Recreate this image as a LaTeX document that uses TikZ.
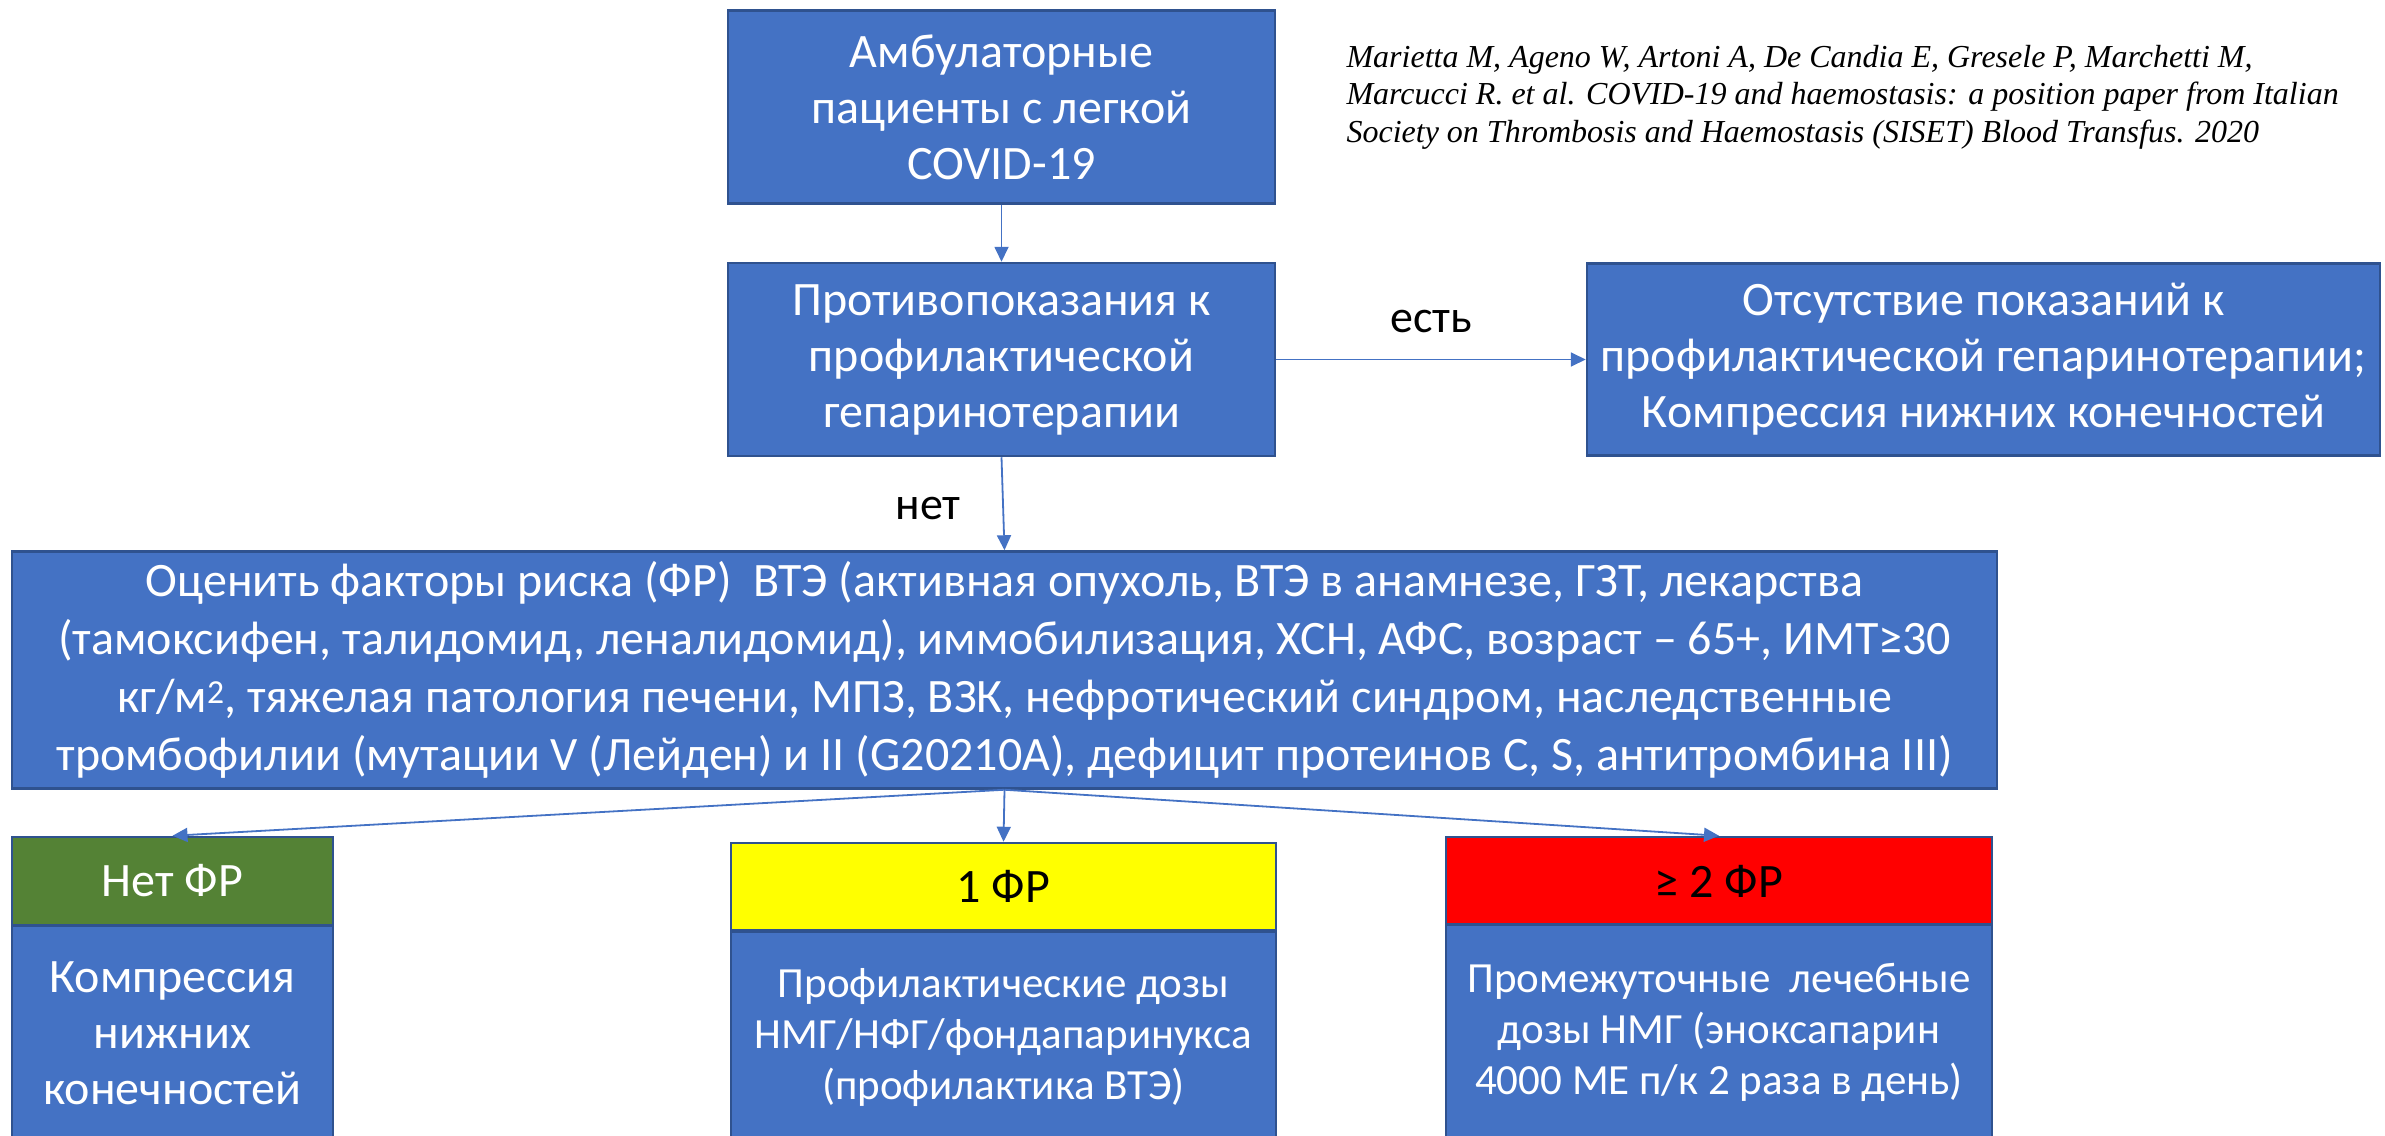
\documentclass[tikz,border=0pt]{standalone}
\usepackage{fontspec}
\setmainfont{Carlito}
\newfontfamily\reffont{Liberation Serif}
\usetikzlibrary{arrows.meta}
\definecolor{boxblue}{HTML}{4472C4}
\definecolor{edgeblue}{HTML}{2F528F}
\definecolor{riskgreen}{HTML}{548235}
\definecolor{riskyellow}{HTML}{FFFF00}
\definecolor{riskred}{HTML}{FF0000}
\begin{document}
\begin{tikzpicture}[x=1pt,y=-1pt,
  box/.style={rectangle, fill=boxblue, draw=edgeblue, line width=2.5pt,
    inner sep=0pt, align=center, text=white,
    font=\fontsize{48}{56}\selectfont},
  header/.style={box, font=\fontsize{48}{56}\selectfont},
  dosebox/.style={box, font=\fontsize{43}{51}\selectfont},
  link/.style={draw=boxblue, line width=1.8pt,
    -{Triangle[length=15pt,width=14pt]}},
  edgelabel/.style={text=black, font=\fontsize{46}{56}\selectfont}]
\useasboundingbox (0,0) rectangle (2385,1135);

% top of the flow
\node[box, minimum width=547pt, minimum height=193pt] (start) at (1001.5,107)
  {Амбулаторные\\ пациенты с легкой\\ COVID-19};
\node[box, minimum width=547pt, minimum height=193pt] (contra) at (1001.5,359.5)
  {Противопоказания к\\ профилактической\\ гепаринотерапии};
\node[box, minimum width=793pt, minimum height=192pt] (nohep) at (1983.5,359.5)
  {Отсутствие показаний к\\ профилактической гепаринотерапии;\\ Компрессия нижних конечностей};

% source
\node[anchor=west, align=left, text=black,
  font=\reffont\itshape\fontsize{32}{37.5}\selectfont] (source) at (1343,97)
  {Marietta M, Ageno W, Artoni A, De Candia E, Gresele P, Marchetti M,\\
   Marcucci R. et al. COVID-19 and haemostasis: a position paper from Italian\\
   Society on Thrombosis and Haemostasis (SISET) Blood Transfus. 2020};

% risk assessment
\node[box, minimum width=1985pt, minimum height=237pt,
  font=\fontsize{48}{58}\selectfont] (risk) at (1004.5,670)
  {Оценить факторы риска (ФР)\ \ ВТЭ (активная опухоль, ВТЭ в анамнезе, ГЗТ, лекарства\\
   (тамоксифен, талидомид, леналидомид), иммобилизация, ХСН, АФС, возраст – 65+, ИМТ≥30\\
   кг/м\textsuperscript{2}, тяжелая патология печени, МПЗ, ВЗК, нефротический синдром, наследственные\\
   тромбофилии (мутации V (Лейден) и II (G20210A), дефицит протеинов C, S, антитромбина III)};

% outcome columns
\node[header, fill=riskgreen, minimum width=321pt, minimum height=88pt] (none) at (172.5,881) {Нет ФР};
\node[box, minimum width=321pt, minimum height=215pt] (noneact) at (172.5,1033)
  {Компрессия\\ нижних\\ конечностей};

\node[header, fill=riskyellow, text=black, minimum width=545pt, minimum height=87pt] (one) at (1003.5,886.5) {1 ФР};
\node[dosebox, minimum width=545pt, minimum height=210pt] (oneact) at (1003.5,1037)
  {Профилактические дозы\\ НМГ/НФГ/фондапаринукса\\ (профилактика ВТЭ)};

\node[header, fill=riskred, text=black, minimum width=546pt, minimum height=88pt] (two) at (1719,881) {≥ 2 ФР};
\node[dosebox, minimum width=546pt, minimum height=215pt] (twoact) at (1719,1032)
  {Промежуточные\ \ лечебные\\ дозы НМГ (эноксапарин\\ 4000 МЕ п/к 2 раза в день)};

% connectors
\draw[link] (start.south) -- (contra.north);
\draw[link] (contra.east) -- (nohep.west);
\draw[link] (contra.south) -- (risk.north);
\draw[link] (risk.south) -- (none.north);
\draw[link] (risk.south) -- (one.north);
\draw[link] (risk.south) -- (two.north);

% branch labels
\node[edgelabel] (yes) at (1431,322) {есть};
\node[edgelabel] (no) at (928,508) {нет};
\end{tikzpicture}
\end{document}
